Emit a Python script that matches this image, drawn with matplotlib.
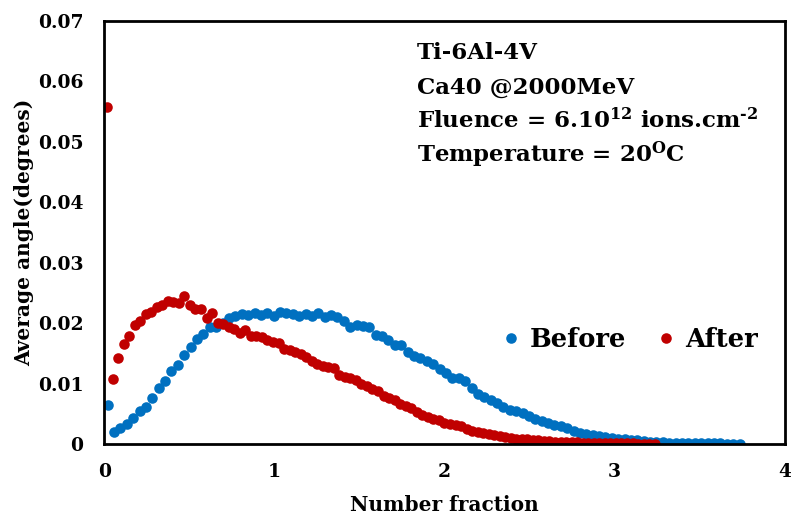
import matplotlib
matplotlib.use("Agg")
import matplotlib.pyplot as plt

# Before irradiation
before_x = [0.020, 0.058, 0.095, 0.133, 0.170, 0.208, 0.245, 0.283, 0.320, 0.358,
            0.395, 0.433, 0.470, 0.508, 0.545, 0.583, 0.620, 0.658, 0.695, 0.733,
            0.770, 0.808, 0.845, 0.883, 0.920, 0.958, 0.995, 1.033, 1.070, 1.108,
            1.145, 1.183, 1.220, 1.258, 1.295, 1.333, 1.370, 1.408, 1.445, 1.483,
            1.520, 1.558, 1.595, 1.633, 1.670, 1.708, 1.745, 1.783, 1.820, 1.858,
            1.895, 1.933, 1.970, 2.008, 2.045, 2.083, 2.120, 2.158, 2.195, 2.233,
            2.270, 2.308, 2.345, 2.383, 2.420, 2.458, 2.495, 2.533, 2.570, 2.608,
            2.645, 2.683, 2.720, 2.758, 2.795, 2.833, 2.870, 2.908, 2.945, 2.983,
            3.020, 3.058, 3.095, 3.133, 3.170, 3.208, 3.245, 3.283, 3.320, 3.358,
            3.395, 3.433, 3.470, 3.508, 3.545, 3.583, 3.620, 3.658, 3.695, 3.733]
before_y = [0.0065, 0.0020, 0.0026, 0.0033, 0.0043, 0.0055, 0.0062, 0.0076, 0.0092, 0.0105,
            0.0120, 0.0130, 0.0148, 0.0160, 0.0174, 0.0182, 0.0194, 0.0194, 0.0201, 0.0208,
            0.0211, 0.0215, 0.0214, 0.0216, 0.0214, 0.0217, 0.0212, 0.0219, 0.0217, 0.0215,
            0.0211, 0.0215, 0.0212, 0.0217, 0.0210, 0.0213, 0.0210, 0.0203, 0.0194, 0.0197,
            0.0196, 0.0193, 0.0180, 0.0178, 0.0172, 0.0164, 0.0163, 0.0152, 0.0146, 0.0142,
            0.0138, 0.0132, 0.0124, 0.0118, 0.0109, 0.0109, 0.0104, 0.0092, 0.0083, 0.0078,
            0.0073, 0.0068, 0.0062, 0.0057, 0.0055, 0.0051, 0.0047, 0.0042, 0.0038, 0.0034,
            0.0031, 0.0029, 0.0026, 0.0022, 0.0019, 0.0017, 0.0015, 0.0013, 0.0012, 0.0010,
            0.0009, 0.0008, 0.0007, 0.0006, 0.0005, 0.0004, 0.0003, 0.0003, 0.0002, 0.0002,
            0.0002, 0.0001, 0.0001, 0.0001, 0.0001, 0.0001, 0.0001, 0.0000, 0.0000, 0.0000]

# After irradiation
after_x = [0.016, 0.049, 0.081, 0.114, 0.146, 0.179, 0.211, 0.244, 0.276, 0.309,
           0.341, 0.374, 0.406, 0.439, 0.471, 0.504, 0.536, 0.569, 0.601, 0.634,
           0.666, 0.699, 0.731, 0.764, 0.796, 0.829, 0.861, 0.894, 0.926, 0.959,
           0.991, 1.024, 1.056, 1.089, 1.121, 1.154, 1.186, 1.219, 1.251, 1.284,
           1.316, 1.349, 1.381, 1.414, 1.446, 1.479, 1.511, 1.544, 1.576, 1.609,
           1.641, 1.674, 1.706, 1.739, 1.771, 1.804, 1.836, 1.869, 1.901, 1.934,
           1.966, 1.999, 2.031, 2.064, 2.096, 2.129, 2.161, 2.194, 2.226, 2.259,
           2.291, 2.324, 2.356, 2.389, 2.421, 2.454, 2.486, 2.519, 2.551, 2.584,
           2.616, 2.649, 2.681, 2.714, 2.746, 2.779, 2.811, 2.844, 2.876, 2.909,
           2.941, 2.974, 3.006, 3.039, 3.071, 3.104, 3.136, 3.169, 3.201, 3.234]
after_y = [0.0558, 0.0107, 0.0143, 0.0165, 0.0178, 0.0197, 0.0203, 0.0215, 0.0219, 0.0227,
           0.0230, 0.0237, 0.0235, 0.0233, 0.0245, 0.0230, 0.0223, 0.0223, 0.0208, 0.0216,
           0.0201, 0.0198, 0.0193, 0.0190, 0.0183, 0.0188, 0.0179, 0.0178, 0.0177, 0.0172,
           0.0169, 0.0167, 0.0158, 0.0156, 0.0153, 0.0149, 0.0144, 0.0137, 0.0132, 0.0129,
           0.0127, 0.0126, 0.0114, 0.0111, 0.0110, 0.0106, 0.0100, 0.0096, 0.0091, 0.0087,
           0.0079, 0.0076, 0.0073, 0.0067, 0.0063, 0.0059, 0.0053, 0.0048, 0.0045, 0.0042,
           0.0039, 0.0035, 0.0033, 0.0031, 0.0029, 0.0025, 0.0022, 0.0020, 0.0018, 0.0017,
           0.0015, 0.0013, 0.0012, 0.0010, 0.0009, 0.0008, 0.0008, 0.0007, 0.0006, 0.0005,
           0.0005, 0.0004, 0.0004, 0.0003, 0.0003, 0.0003, 0.0002, 0.0002, 0.0002, 0.0002,
           0.0001, 0.0001, 0.0001, 0.0001, 0.0001, 0.0001, 0.0000, 0.0000, 0.0000, 0.0000]

x_ticks = [0, 1, 2, 3, 4]
y_ticks = [0, 0.01, 0.02, 0.03, 0.04, 0.05, 0.06, 0.07]
y_tick_labels = ["0", "0.01", "0.02", "0.03", "0.04", "0.05", "0.06", "0.07"]

info_lines = [
    "Ti-6Al-4V",
    "Ca40 @2000MeV",
    r"Fluence = 6.10$^{\mathbf{12}}$ ions.cm$^{\mathbf{\text{-}2}}$",
    r"Temperature = 20$^{\mathbf{O}}$C",
]

plt.rcParams["font.family"] = "DejaVu Serif"
plt.rcParams["font.weight"] = "bold"
plt.rcParams["mathtext.fontset"] = "dejavuserif"

fig = plt.figure(figsize=(7.91, 5.17), dpi=100)
ax = fig.add_axes([0.1318, 0.1412, 0.8606, 0.8182])

ax.plot(before_x, before_y, "o", color="#0070C0", markersize=7.6, markeredgewidth=0, label="Before")
ax.plot(after_x, after_y, "o", color="#C00000", markersize=7.6, markeredgewidth=0, label="After")

ax.set_xlim(0, 4)
ax.set_ylim(0, 0.07)
ax.set_xticks(x_ticks)
ax.set_xticklabels([str(t) for t in x_ticks])
ax.set_yticks(y_ticks)
ax.set_yticklabels(y_tick_labels)
ax.tick_params(axis="both", length=0, labelsize=13.5)
ax.tick_params(axis="x", pad=14)
ax.tick_params(axis="y", pad=15)
for s in ax.spines.values():
    s.set_linewidth(2.0)

ax.set_xlabel("Number fraction", fontsize=14.5, fontweight="bold", labelpad=10)
ax.set_ylabel("Average angle(degrees)", fontsize=14.5, fontweight="bold", labelpad=3)

baselines = [0.910, 0.827, 0.747, 0.667]
for line, yb in zip(info_lines, baselines):
    ax.text(0.459, yb, line, transform=ax.transAxes, fontsize=16.5, fontweight="bold",
            ha="left", va="baseline")

ax.legend(loc="center left", bbox_to_anchor=(0.552, 0.246), ncol=2, frameon=False,
          handlelength=0.6, handletextpad=0.45, columnspacing=1.25,
          prop={"weight": "bold", "size": 18.5})

fig.savefig("out.png", dpi=100)
